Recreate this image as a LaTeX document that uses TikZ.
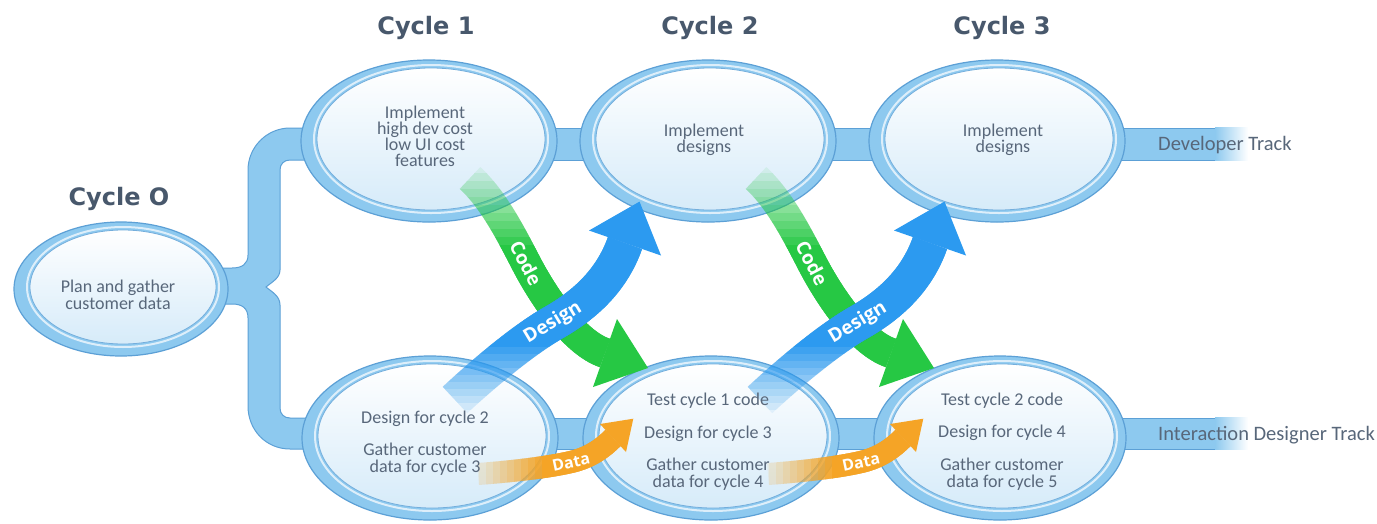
\documentclass[tikz,border=0pt]{standalone}
\usepackage{fontspec}
\setmainfont{Carlito}
\newfontfamily\titlefont{DejaVu Sans}
\newfontfamily\labelfont{Open Sans}
\usetikzlibrary{calc,shapes.geometric}

\definecolor{ringfill}{RGB}{141,201,239}
\definecolor{ringedge}{RGB}{92,160,214}
\definecolor{innerblue}{RGB}{214,235,249}
\definecolor{txt}{RGB}{88,103,122}
\definecolor{ttl}{RGB}{72,88,108}
\definecolor{codegreen}{RGB}{38,200,68}
\definecolor{designblue}{RGB}{44,154,240}
\definecolor{dataorange}{RGB}{245,164,38}

\tikzset{
  ringnode/.style={ellipse, draw=ringedge, line width=1.2pt, fill=ringfill, inner sep=0pt, outer sep=0pt},
  innerstyle/.style={top color=white, bottom color=innerblue, draw=ringedge!85, line width=0.8pt},
  barstyle/.style={fill=ringfill, draw=ringedge, line width=1pt},
  codeshaft/.style={draw=codegreen, line width=30pt, line cap=butt},
  designshaft/.style={draw=designblue, line width=36pt, line cap=butt},
  datashaft/.style={draw=dataorange, line width=22pt, line cap=butt},
  bodytext/.style={text=txt, font=\fontsize{18}{18}\selectfont, inner sep=0pt, anchor=base},
  titletext/.style={text=ttl, font=\titlefont\bfseries\fontsize{24}{24}\selectfont, inner sep=0pt, anchor=base},
  tracktext/.style={text=txt, font=\fontsize{20.5}{20}\selectfont, inner sep=0pt, anchor=base west},
  arrowlabel/.style={text=white, font=\labelfont\bfseries\fontsize{19}{19}\selectfont, inner sep=0pt},
  datalabel/.style={text=white, font=\labelfont\bfseries\fontsize{16}{16}\selectfont, inner sep=0pt}
}

\newcommand\cycleell[5]{%
  \node[ringnode, minimum width={2*#4}, minimum height={2*#5}] (#1) at (#2,#3) {};
  \draw[white, opacity=.7, line width=2pt] ({#2+2},{#3-2}) ellipse [x radius={#4-11}, y radius={#5-7}];
  \shadedraw[innerstyle] ({#2+2},{#3-2}) ellipse [x radius={#4-14}, y radius={#5-10}];
}

\newcommand\bline[4]{\node[bodytext] (#1) at (#2,#3) {#4};}

% #1 suffix, #2 green shift, #3 blue shift, #4 orange shift
% each shaft is built of stacked layers, every layer starting a little further
% along, so that the start fades in smoothly
\newcommand\flowarrows[4]{%
  \begin{scope}[xshift=#2]
    \coordinate (gs#1) at (470,178);
    \coordinate (gm#1) at (526,263);
    \coordinate (ge#1) at (605,353);
    \foreach \k in {0,...,10}{
      \begin{scope}
        \clip (-400,{165+\k*8}) rectangle (1800,420);
        \draw[codeshaft, opacity={1/(11-\k)}] (gs#1) .. controls (494,200) and (512,236) .. (gm#1)
                             .. controls (540,290) and (572,342) .. (ge#1);
      \end{scope}
    }
    \fill[codegreen] (617,319) -- (648,368) -- (593,387) -- cycle;
    \node[arrowlabel, rotate=-62.5] (code#1) at (gm#1) {Code};
  \end{scope}
  \begin{scope}[xshift=#4]
    \coordinate (os#1) at (478,474);
    \coordinate (om#1) at (571,462);
    \coordinate (oe#1) at (613,438);
    \foreach \k in {0,...,10}{
      \begin{scope}
        \clip ({472+\k*7},300) rectangle (700,520);
        \draw[datashaft, opacity={1/(11-\k)}] (os#1) .. controls (505,472) and (545,468) .. (om#1)
                            .. controls (590,457.6) and (603,448) .. (oe#1);
      \end{scope}
    }
    \fill[dataorange] (600,424) -- (633.3,418.7) -- (626,452) -- cycle;
    \node[datalabel, rotate=12] (data#1) at (om#1) {Data};
  \end{scope}
  \begin{scope}[xshift=#3]
    \coordinate (bs#1) at (455,400);
    \coordinate (bm#1) at (553,323);
    \coordinate (be#1) at (625,243);
    \foreach \k in {0,...,10}{
      \begin{scope}
        \clip (-400,200) rectangle (1800,{416-\k*7});
        \draw[designshaft, opacity={1/(11-\k)}] (bs#1) .. controls (485,372) and (525,339) .. (bm#1)
                              .. controls (585,305) and (612,280) .. (be#1);
      \end{scope}
    }
    \fill[designblue] (589,230.5) -- (639.5,201.6) -- (661,255.5) -- cycle;
    \node[arrowlabel, rotate=31] (design#1) at (bm#1) {Design};
  \end{scope}
}

\begin{document}
\begin{tikzpicture}[x=1pt, y=-1pt]
\useasboundingbox (0,0) rectangle (1377,523);
\fill[white] (0,0) rectangle (1377,523);

% bracket joining cycle 0 to both tracks
\path[barstyle] (320,128) -- (290,128)
  .. controls (267,128) and (248,147) .. (248,170)
  -- (248,255)
  .. controls (248,264) and (242,268) .. (232,268)
  -- (200,268) -- (200,304) -- (232,304)
  .. controls (242,304) and (248,308) .. (248,318)
  -- (248,406)
  .. controls (248,430) and (266,449) .. (290,449)
  -- (320,449) -- (320,418) -- (290,418)
  .. controls (284,418) and (280,414) .. (280,408)
  -- (280,305)
  .. controls (280,296) and (272,292) .. (266,287)
  .. controls (272,282) and (280,278) .. (280,270)
  -- (280,170)
  .. controls (280,164) and (284,160) .. (290,160)
  -- (320,160) -- cycle;

% track bars
\path[barstyle] (310,128) rectangle (1120,160);
\path[barstyle] (310,418) rectangle (1120,449);
\fill[ringfill] (1110,128) rectangle (1216,160);
\draw[ringedge, line width=1pt] (1110,128) -- (1216,128) (1110,160) -- (1216,160);
\shade[left color=ringfill, right color=white] (1215,127.5) rectangle (1248,160.5);
\fill[ringfill] (1110,418) rectangle (1216,449);
\draw[ringedge, line width=1pt] (1110,418) -- (1216,418) (1110,449) -- (1216,449);
\shade[left color=ringfill, right color=white] (1215,417.5) rectangle (1248,449.5);

% cycles
\cycleell{c0}{121}{289}{107}{67}
\cycleell{t1}{429}{141}{128}{81}
\cycleell{t2}{708}{141}{128}{81}
\cycleell{t3}{997}{141}{128}{81}
\cycleell{b1}{430}{438}{128}{82}
\cycleell{b2}{711}{438}{128}{82}
\cycleell{b3}{1000}{438}{126}{82}

% hand-off arrows
\flowarrows{a}{0pt}{0pt}{0pt}
\flowarrows{b}{286pt}{305pt}{290pt}

% titles
\node[titletext] (title0) at (119,205) {Cycle O};
\node[titletext] (title1) at (426,34) {Cycle 1};
\node[titletext] (title2) at (710,34) {Cycle 2};
\node[titletext] (title3) at (1002,34) {Cycle 3};

% texts
\bline{c0a}{118}{292}{Plan and gather}
\bline{c0b}{118}{309}{customer data}

\bline{t1a}{425}{118}{Implement}
\bline{t1b}{425}{134}{high dev cost}
\bline{t1c}{425}{150}{low UI cost}
\bline{t1d}{425}{166}{features}

\bline{t2a}{704}{136}{Implement}
\bline{t2b}{704}{152}{designs}

\bline{t3a}{1003}{136}{Implement}
\bline{t3b}{1003}{152}{designs}

\bline{b1a}{425}{423}{Design for cycle 2}
\bline{b1b}{425}{455}{Gather customer}
\bline{b1c}{425}{472}{data for cycle 3}

\bline{b2a}{708}{405}{Test cycle 1 code}
\bline{b2b}{708}{438}{Design for cycle 3}
\bline{b2c}{708}{470}{Gather customer}
\bline{b2d}{708}{487}{data for cycle 4}

\bline{b3a}{1002}{405}{Test cycle 2 code}
\bline{b3b}{1002}{437}{Design for cycle 4}
\bline{b3c}{1002}{470}{Gather customer}
\bline{b3d}{1002}{487}{data for cycle 5}

\node[tracktext] (devtrack) at (1158,150.7) {Developer Track};
\node[tracktext] (idtrack) at (1158,440.7) {Interaction Designer Track};
\end{tikzpicture}
\end{document}
